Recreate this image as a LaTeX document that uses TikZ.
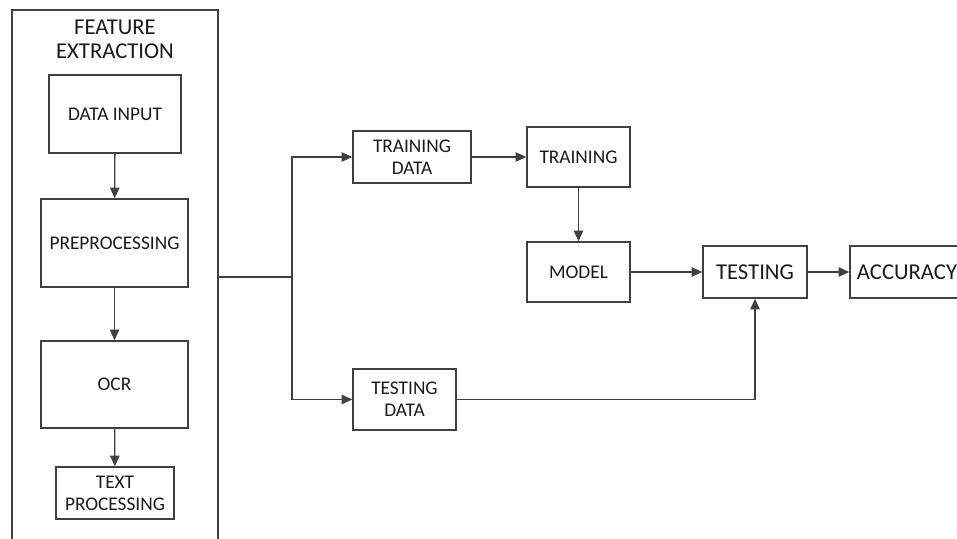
\documentclass[tikz,border=0pt]{standalone}
\usepackage{fontspec}
\setmainfont{Carlito}
\usetikzlibrary{arrows.meta}
\definecolor{lnc}{HTML}{404040}
\definecolor{txc}{HTML}{1A1A1A}
\tikzset{every picture/.style={line width=1pt}}

\begin{document}
\begin{tikzpicture}[x=0.75pt,y=0.75pt,yscale=-1,xscale=1,
  blk/.style={draw=lnc,rectangle,inner sep=0pt,align=center,text=txc,font=\fontsize{14.5}{16.5}\selectfont},
  big/.style={font=\fontsize{17}{18}\selectfont},
  arr/.style={draw=lnc,-{Triangle[length=8pt,width=7pt]}}]
\useasboundingbox (0,0) rectangle (957,539);

%Frame: feature extraction
\draw [lnc] (12,539) -- (12,10) -- (218,10) -- (218,539) ;
% Text Node
\node (title) [align=center,text=txc,big] at (115,39) {FEATURE\\EXTRACTION};

%Shape: Rectangle (left column)
\node (datainput) [blk,minimum width=99pt,minimum height=58.5pt] at (115,114) {DATA INPUT};
\node (preproc) [blk,minimum width=110.25pt,minimum height=66pt] at (114.5,243) {PREPROCESSING};
\node (ocr) [blk,minimum width=110.25pt,minimum height=65.25pt] at (114.5,384.5) {OCR};
\node (textproc) [blk,minimum width=88.5pt,minimum height=39pt] at (115,493) {TEXT\\PROCESSING};

%Shape: Rectangle (right part)
\node (trdata) [blk,minimum width=88.5pt,minimum height=39pt] at (412,157) {TRAINING\\DATA};
\node (training) [blk,minimum width=77.25pt,minimum height=45pt] at (578.5,157) {TRAINING};
\node (model) [blk,minimum width=77.25pt,minimum height=45pt] at (578.5,272) {MODEL};
\node (testing) [blk,big,minimum width=78pt,minimum height=39pt] at (755,272) {TESTING};
\node (accuracy) [blk,big,minimum width=85.5pt,minimum height=39pt] at (907,272) {ACCURACY};
\node (tsdata) [blk,minimum width=77.25pt,minimum height=45.75pt] at (404.5,399.5) {TESTING\\DATA};

% Connectors
\coordinate (framer) at (218,277);
\coordinate (split) at (292,277);
\draw [arr] (datainput) -- (preproc);
\draw [arr] (preproc) -- (ocr);
\draw [arr] (ocr) -- (textproc);
\draw [lnc] (framer) -- (split);
\draw [arr] (split) |- (trdata.west);
\draw [arr] (split) |- (tsdata.west);
\draw [arr] (trdata) -- (training);
\draw [arr] (training) -- (model);
\draw [arr] (model) -- (testing);
\draw [arr] (testing) -- (accuracy);
\draw [arr] (tsdata.east) -| (testing.south);

\end{tikzpicture}
\end{document}
